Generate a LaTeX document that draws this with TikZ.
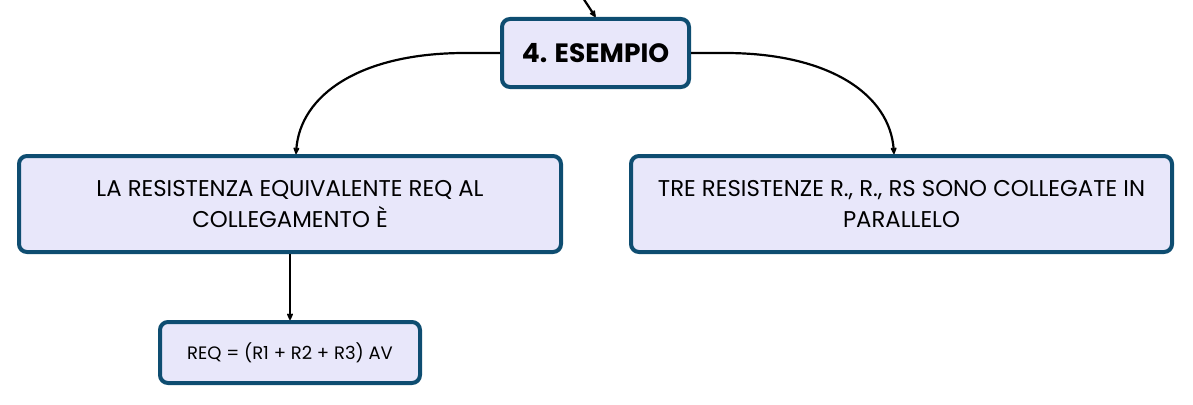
\documentclass[tikz,border=0pt]{standalone}
\usepackage{fontspec}
\setmainfont{Poppins}
\usetikzlibrary{arrows.meta}
\definecolor{boxline}{HTML}{0E4D71}
\definecolor{boxfill}{HTML}{E8E7FA}
\tikzset{
  card/.style={draw=boxline, fill=boxfill, line width=4pt, rounded corners=8pt, align=center, inner sep=0pt},
  link/.style={draw=black, line width=2.2pt, -{Stealth[length=9pt,width=8pt,open,round]}},
}
\begin{document}
\begin{tikzpicture}[x=1pt,y=-1pt]
\useasboundingbox (0,0) rectangle (1193,404);
\node[card, minimum width=187pt, minimum height=68pt, font=\fontsize{26.5}{30}\selectfont\bfseries] (es) at (595.5,53) {4. ESEMPIO};
\node[card, minimum width=542pt, minimum height=96pt, font=\fontsize{22.8}{31}\selectfont] (left) at (290,204) {LA RESISTENZA EQUIVALENTE REQ AL\\COLLEGAMENTO È};
\node[card, minimum width=541pt, minimum height=96pt, font=\fontsize{22.8}{31}\selectfont] (right) at (901.5,204) {TRE RESISTENZE R., R., RS SONO COLLEGATE IN\\PARALLELO};
\node[card, minimum width=260pt, minimum height=61pt, font=\fontsize{18}{22}\selectfont] (eq) at (290,352.5) {REQ = (R1 + R2 + R3) AV};
\coordinate (top) at (583,-2);
\draw[link] (top) -- (es.north);
\draw[link] (es.west) -- (465,53) .. controls (360,53) and (300,95) .. (left.north -| 296,0);
\draw[link] (es.east) -- (725,53) .. controls (830,53) and (890,95) .. (right.north -| 894,0);
\draw[link] (left.south) -- (eq.north);
\end{tikzpicture}
\end{document}
